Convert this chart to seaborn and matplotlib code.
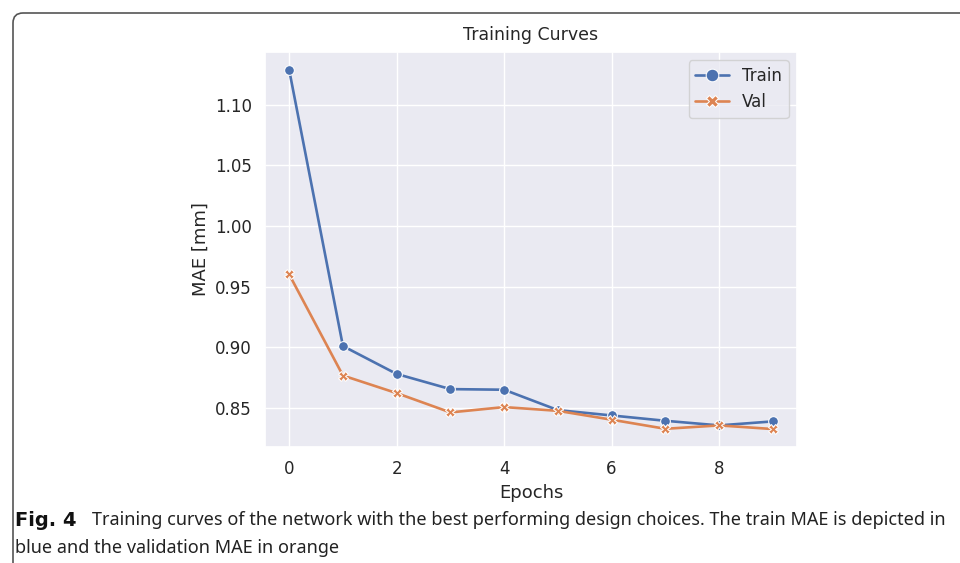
import matplotlib
matplotlib.use("Agg")
import matplotlib.pyplot as plt
from matplotlib.patches import FancyBboxPatch
import seaborn as sns
import pandas as pd

epochs = [0, 1, 2, 3, 4, 5, 6, 7, 8, 9]
train_mae = [1.1285, 0.901, 0.878, 0.8655, 0.865, 0.8482, 0.8438, 0.8394, 0.8356, 0.8389]
val_mae = [0.960, 0.8767, 0.8622, 0.8463, 0.8507, 0.8476, 0.8403, 0.8328, 0.8356, 0.8326]
series_names = ["Train", "Val"]

df = pd.DataFrame({
    "Epochs": epochs * 2,
    "MAE [mm]": train_mae + val_mae,
    "Set": [series_names[0]] * len(epochs) + [series_names[1]] * len(epochs),
})

sns.set_theme(style="darkgrid", palette="deep")
plt.rcParams['font.family'] = ['DejaVu Sans']

fig = plt.figure(figsize=(9.6, 5.63), dpi=100)
fig.patch.set_facecolor("white")
ax = fig.add_axes([265/960, 1 - 447/563, (797-265)/960, (447-52)/563])

sns.lineplot(data=df, x="Epochs", y="MAE [mm]", hue="Set", style="Set",
             markers=True, dashes=False, ax=ax, markersize=7, linewidth=1.9)

ax.set_title("Training Curves", fontsize=12.5, pad=9)
ax.set_xlabel("Epochs", fontsize=13)
ax.set_ylabel("MAE [mm]", fontsize=13)
ax.tick_params(labelsize=12)
ax.set_yticks([0.85, 0.90, 0.95, 1.00, 1.05, 1.10])
ax.set_yticklabels(["0.85", "0.90", "0.95", "1.00", "1.05", "1.10"])
leg = ax.legend(loc="upper right", fontsize=12, title=None, markerscale=1.3)

# frame border around figure panel
border = FancyBboxPatch((0.13, -1.0), 12.0, 5.63 - 0.13 + 1.0,
                        boxstyle="round,pad=0,rounding_size=0.1",
                        transform=fig.dpi_scale_trans, fill=False,
                        edgecolor="#555555", linewidth=1.2, clip_on=False)
fig.patches.append(border)

cap_font = ['Noto Sans', 'DejaVu Sans']
fig.text(15/960, 1 - 520/563, "Fig. 4", fontsize=14, fontweight="bold",
         family=['DejaVu Sans'], va="center", ha="left", color="#111111")
fig.text(92/960, 1 - 520/563,
         "Training curves of the network with the best performing design choices. The train MAE is depicted in",
         fontsize=13, family=cap_font, va="center", ha="left", color="#222222")
fig.text(15/960, 1 - 548/563, "blue and the validation MAE in orange",
         fontsize=13, family=cap_font, va="center", ha="left", color="#222222")

fig.savefig("out.png", dpi=100)
